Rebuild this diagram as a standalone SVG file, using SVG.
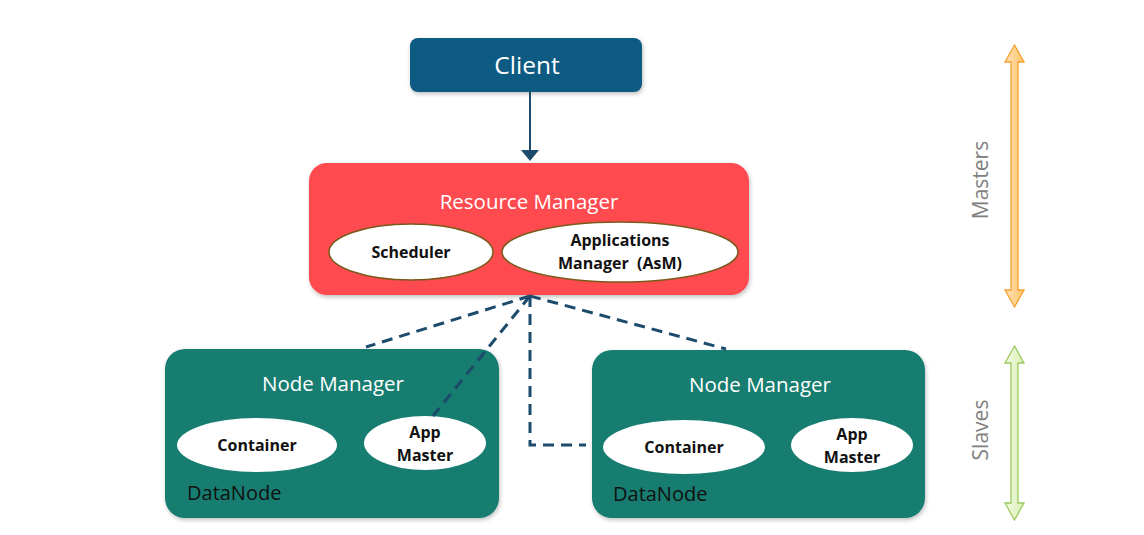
<svg xmlns="http://www.w3.org/2000/svg" width="1144" height="535" viewBox="0 0 1144 535">
<style>
text{font-family:"Open Sans","Noto Sans",sans-serif}
.title{fill:#fff;font-size:20.5px;text-anchor:middle}
.inner{fill:#111;font-size:16px;font-weight:bold;text-anchor:middle;white-space:pre}
.dn{fill:#111;font-size:20px}
.side{fill:#808080;font-size:21px;text-anchor:middle}
.nm{fill:#137d6f}
.ell{fill:#fff}
.rmell{fill:#fff;stroke:#7a5a1a;stroke-width:1.5}
.dash{fill:none;stroke:#1d4b6b;stroke-width:3;stroke-dasharray:11 7}
</style>
<defs>
<filter id="sh" x="-5%" y="-5%" width="112%" height="120%">
<feDropShadow dx="1" dy="2" stdDeviation="2" flood-color="#000" flood-opacity="0.25"/>
</filter>
<linearGradient id="og" x1="0" x2="1"><stop offset="0" stop-color="#ffe3b8"/><stop offset="1" stop-color="#ffc46a"/></linearGradient>
<linearGradient id="gg" x1="0" x2="1"><stop offset="0" stop-color="#f4fbe6"/><stop offset="1" stop-color="#d8eeb2"/></linearGradient>
</defs>
<rect width="1144" height="535" fill="#fff"/>
<g id="client">
<rect x="410" y="38" width="232" height="54" rx="8" fill="#0e5a82" filter="url(#sh)"/>
<text x="527" y="74" style="fill:#fff;font-size:24.5px;text-anchor:middle">Client</text>
</g>
<g id="resource-manager">
<rect x="309" y="163" width="440" height="132" rx="18" fill="#ff4b4f" filter="url(#sh)"/>
<text class="title" x="529" y="209">Resource Manager</text>
<ellipse class="rmell" cx="411" cy="252" rx="82" ry="28"/>
<text class="inner" x="411" y="258">Scheduler</text>
<ellipse class="rmell" cx="620" cy="252" rx="118" ry="30"/>
<text class="inner" x="620" y="246">Applications</text>
<text class="inner" x="620" y="269">Manager  (AsM)</text>
</g>
<g id="node-manager-1">
<rect class="nm" x="165" y="349" width="334" height="169" rx="20" filter="url(#sh)"/>
<text class="title" x="333" y="391">Node Manager</text>
<ellipse class="ell" cx="257" cy="445" rx="80" ry="27"/>
<text class="inner" x="257" y="451">Container</text>
<ellipse class="ell" cx="425" cy="443" rx="61" ry="27"/>
<text class="inner" x="425" y="438">App</text>
<text class="inner" x="425" y="461">Master</text>
<text class="dn" x="187" y="500">DataNode</text>
</g>
<g id="node-manager-2">
<rect class="nm" x="592" y="350" width="333" height="168" rx="20" filter="url(#sh)"/>
<text class="title" x="760" y="392">Node Manager</text>
<ellipse class="ell" cx="684" cy="447" rx="81" ry="27"/>
<text class="inner" x="684" y="453">Container</text>
<ellipse class="ell" cx="852" cy="445" rx="61" ry="27"/>
<text class="inner" x="852" y="440">App</text>
<text class="inner" x="852" y="463">Master</text>
<text class="dn" x="613" y="501">DataNode</text>
</g>
<g id="masters">
<polygon points="1014.5,45 1024,62 1018,62 1018,290 1024,290 1014.5,307 1005,290 1011,290 1011,62 1005,62" fill="url(#og)" stroke="#f5a030" stroke-width="1.3"/>
<text class="side" transform="translate(988,180) rotate(-90)">Masters</text>
</g>
<g id="slaves">
<polygon points="1014.5,346 1024,363 1018,363 1018,503 1024,503 1014.5,520 1005,503 1011,503 1011,363 1005,363" fill="url(#gg)" stroke="#9cc95c" stroke-width="1.3"/>
<text class="side" transform="translate(988,430) rotate(-90)">Slaves</text>
</g>
<g id="connectors">
<line x1="530" y1="92" x2="530" y2="150" stroke="#1d4b6b" stroke-width="2"/>
<polygon points="521,150 539,150 530,161" fill="#1d4b6b"/>
<path class="dash" d="M530,296 L366,347"/>
<path class="dash" d="M530,296 L433,416"/>
<path class="dash" d="M530,296 L530,445 L586,445"/>
<path class="dash" d="M530,296 L726,349"/>
</g>
</svg>
